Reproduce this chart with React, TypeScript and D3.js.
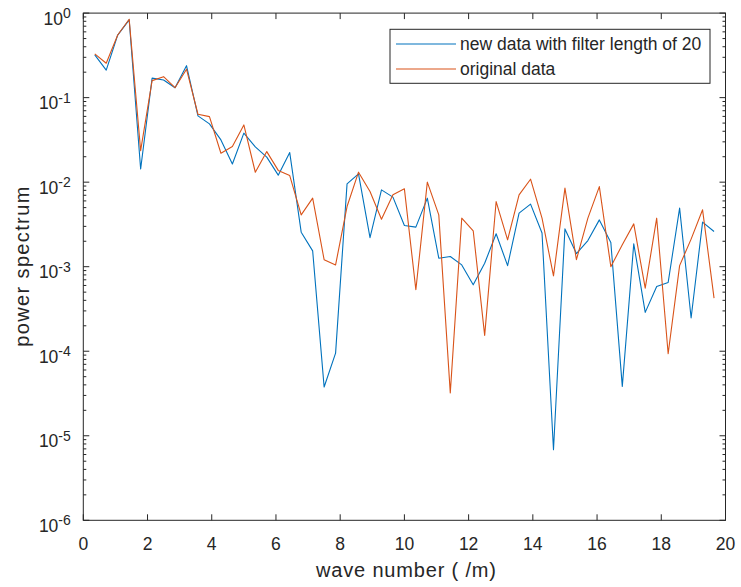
import React from "react";
import * as d3 from "d3";

const waveNumber = [
  0.357, 0.714, 1.071, 1.429, 1.786, 2.143, 2.5, 2.857, 3.214, 3.571,
  3.929, 4.286, 4.643, 5.0, 5.357, 5.714, 6.071, 6.429, 6.786, 7.143,
  7.5, 7.857, 8.214, 8.571, 8.929, 9.286, 9.643, 10.0, 10.357, 10.714,
  11.071, 11.429, 11.786, 12.143, 12.5, 12.857, 13.214, 13.571, 13.929, 14.286,
  14.643, 15.0, 15.357, 15.714, 16.071, 16.429, 16.786, 17.143, 17.5, 17.857,
  18.214, 18.571, 18.929, 19.286, 19.643,
];

const filteredData = [
  0.32, 0.212, 0.55, 0.83, 0.0143, 0.17, 0.162, 0.131, 0.239, 0.0608,
  0.0489, 0.0316, 0.0164, 0.038, 0.0261, 0.0198, 0.0121, 0.0224, 0.00256, 0.00154,
  3.78e-5, 9.5e-5, 0.00955, 0.01254, 0.00221, 0.0081, 0.00665, 0.00307, 0.00294, 0.00647,
  0.00126, 0.00132, 0.00105, 0.00061, 0.0011, 0.00245, 0.00103, 0.0043, 0.0055, 0.0025,
  6.85e-6, 0.0028, 0.00143, 0.00204, 0.00358, 0.00193, 3.84e-5, 0.00187, 0.000288, 0.000583,
  0.00065, 0.00493, 0.000247, 0.00337, 0.00261,
];

const originalData = [
  0.329, 0.255, 0.55, 0.845, 0.0236, 0.159, 0.177, 0.131, 0.217, 0.0636,
  0.0596, 0.022, 0.0264, 0.0476, 0.0131, 0.023, 0.01378, 0.01197, 0.0041, 0.00647,
  0.00121, 0.00105, 0.00515, 0.01313, 0.00774, 0.00365, 0.00708, 0.00834, 0.000533, 0.01,
  0.0041, 3.2e-5, 0.00375, 0.00266, 0.000154, 0.0059, 0.00208, 0.00708, 0.01084, 0.00375,
  0.00078, 0.0085, 0.00121, 0.00375, 0.00887, 0.001, 0.00182, 0.00321, 0.000558, 0.00375,
  9.34e-5, 0.00103, 0.00212, 0.00471, 0.000425,
];

const xTicks = [0, 2, 4, 6, 8, 10, 12, 14, 16, 18, 20];
const yExponents = [0, -1, -2, -3, -4, -5, -6];
const seriesNames = ["new data with filter length of 20", "original data"];
const seriesColors = ["#0072BD", "#D95319"];

const W = 741;
const H = 587;
const L = 83.3;
const R = 725.5;
const T = 13.1;
const B = 520.3;
const axisColor = "#262626";
const font = "'Liberation Sans', Arial, Helvetica, sans-serif";

export default function App() {
  const x = d3.scaleLinear().domain([0, 20]).range([L, R]);
  const y = d3.scaleLog().domain([1e-6, 1]).range([B, T]);
  const line = d3
    .line<number>()
    .x((_, i) => x(waveNumber[i]))
    .y((d) => y(d));

  const minor: number[] = [];
  for (let e = -6; e < 0; e++) {
    for (let m = 2; m <= 9; m++) minor.push(m * Math.pow(10, e));
  }

  const series = [filteredData, originalData];

  return (
    <div style={{ position: "absolute", left: 0, top: 0 }}>
      <svg width={W} height={H} style={{ display: "block", background: "#fff" }}>
        <defs>
          <clipPath id="clip">
            <rect x={L} y={T} width={R - L} height={B - T} />
          </clipPath>
        </defs>
        <rect x={0} y={0} width={W} height={H} fill="#fff" />
        <g clipPath="url(#clip)">
          {series.map((s, k) => (
            <path
              key={k}
              d={line(s) || ""}
              fill="none"
              stroke={seriesColors[k]}
              strokeWidth={1.1}
              strokeLinejoin="round"
            />
          ))}
        </g>
        <rect x={L} y={T} width={R - L} height={B - T} fill="none" stroke={axisColor} strokeWidth={1} />
        {xTicks.map((t) => (
          <g key={"x" + t}>
            <line x1={x(t)} x2={x(t)} y1={B} y2={B - 6} stroke={axisColor} />
            <line x1={x(t)} x2={x(t)} y1={T} y2={T + 6} stroke={axisColor} />
            <text
              x={x(t)}
              y={550}
              textAnchor="middle"
              fontFamily={font}
              fontSize={17.5}
              fill={axisColor}
            >
              {t}
            </text>
          </g>
        ))}
        {yExponents.map((e) => {
          const yy = y(Math.pow(10, e));
          return (
            <g key={"y" + e}>
              <line x1={L} x2={L + 6} y1={yy} y2={yy} stroke={axisColor} />
              <line x1={R} x2={R - 6} y1={yy} y2={yy} stroke={axisColor} />
              <text
                x={L - 12.5}
                y={yy + 11.5}
                textAnchor="end"
                fontFamily={font}
                fontSize={17.5}
                fill={axisColor}
              >
                10
                <tspan dy={-6.5} fontSize={14}>
                  {e}
                </tspan>
              </text>
            </g>
          );
        })}
        {minor.map((v, i) => (
          <g key={"m" + i}>
            <line x1={L} x2={L + 3} y1={y(v)} y2={y(v)} stroke={axisColor} />
            <line x1={R} x2={R - 3} y1={y(v)} y2={y(v)} stroke={axisColor} />
          </g>
        ))}
        <text
          x={406}
          y={577}
          textAnchor="middle"
          fontFamily={font}
          fontSize={20}
          textLength={180}
          lengthAdjust="spacing"
          fill={axisColor}
        >
          wave number ( /m)
        </text>
        <text
          transform={`translate(29, ${(T + B) / 2}) rotate(-90)`}
          textAnchor="middle"
          fontFamily={font}
          fontSize={20}
          textLength={160}
          lengthAdjust="spacing"
          fill={axisColor}
        >
          power spectrum
        </text>
        <g>
          <rect x={390} y={29.3} width={320} height={54} fill="#fff" stroke={axisColor} strokeWidth={1} />
          {seriesNames.map((n, k) => {
            const ly = 44 + k * 25;
            return (
              <g key={n}>
                <line x1={396} x2={456} y1={ly} y2={ly} stroke={seriesColors[k]} strokeWidth={1.1} />
                <text x={460} y={ly + 6} fontFamily={font} fontSize={17.5} fill={axisColor}>
                  {n}
                </text>
              </g>
            );
          })}
        </g>
      </svg>
    </div>
  );
}
